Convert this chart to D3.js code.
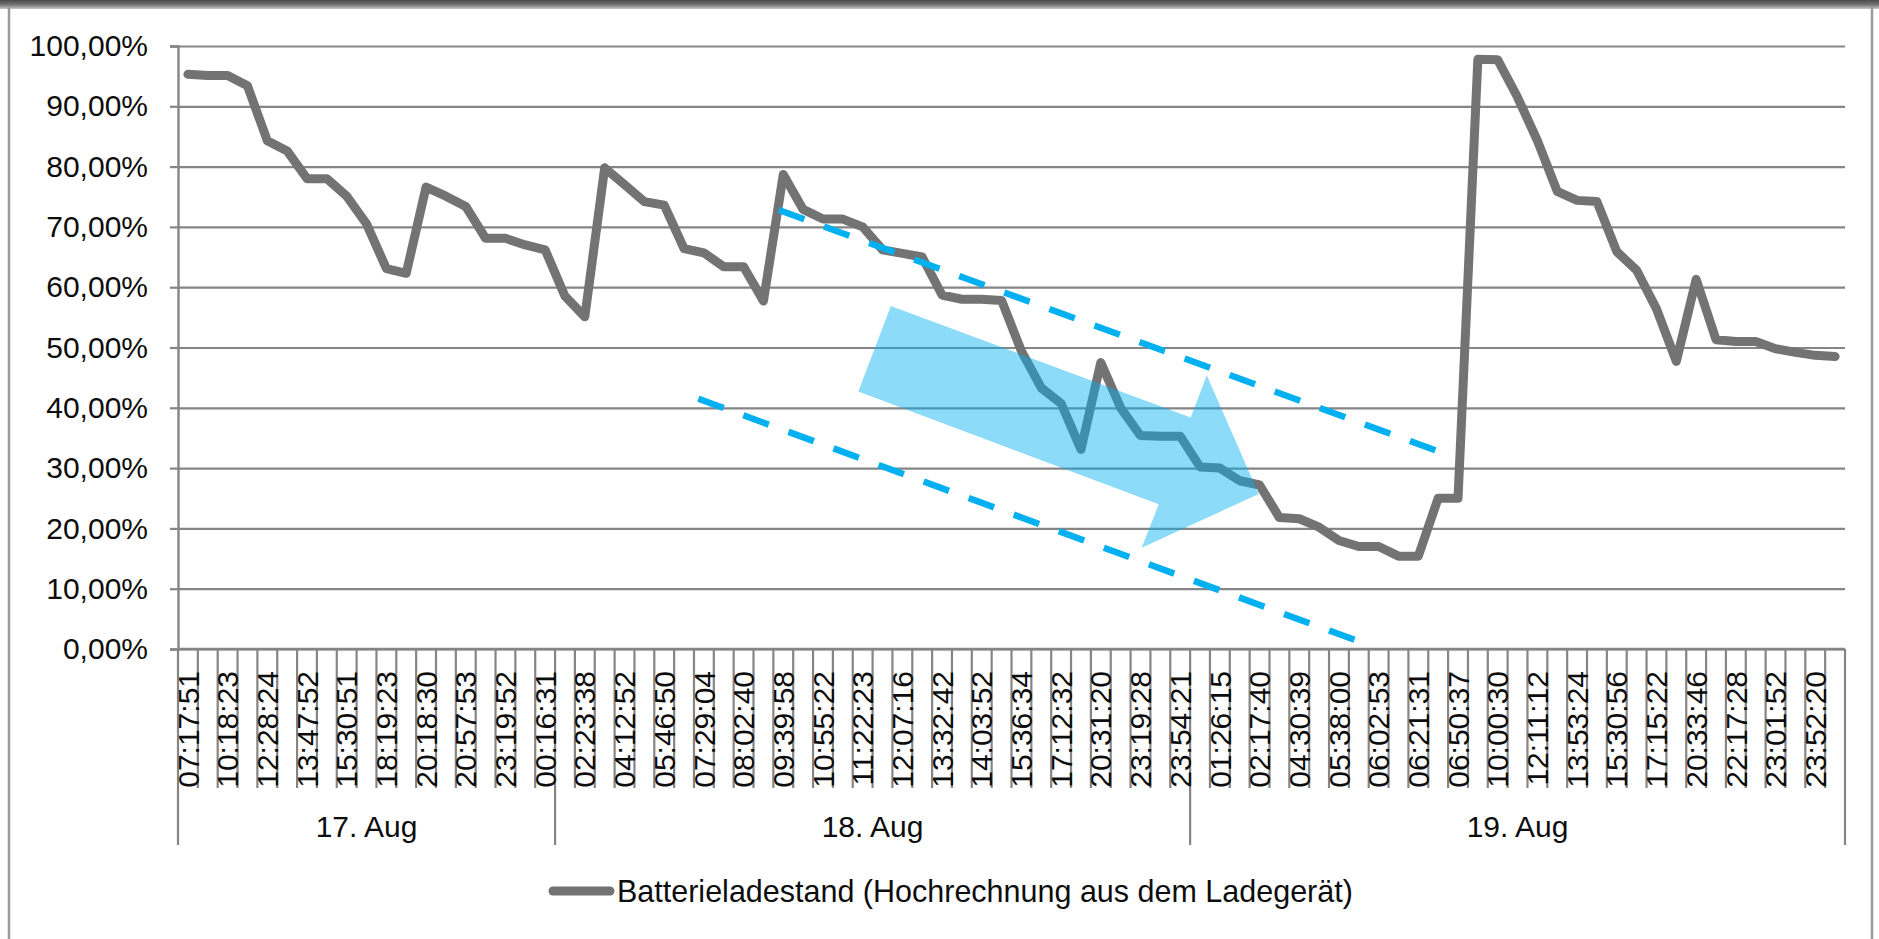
<!DOCTYPE html>
<html>
<head>
<meta charset="utf-8">
<script src="https://cdn.jsdelivr.net/npm/d3@7"></script>
<style>
  html, body { margin: 0; padding: 0; background: #fff; }
  svg { display: block; font-family: "Liberation Sans", Arial, sans-serif; }
</style>
</head>
<body>
<svg id="chart" width="1879" height="939"></svg>
<script>
// Battery charge level readings (fraction of full), one per logged timestamp
const values = [
  0.953, 0.951, 0.951, 0.934, 0.843, 0.826, 0.780, 0.780, 0.751, 0.705,
  0.631, 0.623, 0.766, 0.751, 0.734, 0.681, 0.681, 0.670, 0.662, 0.585,
  0.551, 0.798, 0.770, 0.742, 0.736, 0.664, 0.657, 0.634, 0.634, 0.577,
  0.787, 0.729, 0.713, 0.713, 0.700, 0.662, 0.656, 0.650, 0.587, 0.580,
  0.580, 0.578, 0.494, 0.433, 0.407, 0.331, 0.475, 0.400, 0.354, 0.353,
  0.353, 0.302, 0.300, 0.279, 0.272, 0.218, 0.216, 0.202, 0.180, 0.170,
  0.170, 0.154, 0.154, 0.250, 0.250, 0.978, 0.977, 0.915, 0.843, 0.759,
  0.744, 0.742, 0.659, 0.628, 0.564, 0.477, 0.613, 0.513, 0.510, 0.510,
  0.498, 0.492, 0.487, 0.485
];

// Time labels, printed on every second reading
const tickLabels = [
  "07:17:51", "10:18:23", "12:28:24", "13:47:52", "15:30:51", "18:19:23",
  "20:18:30", "20:57:53", "23:19:52", "00:16:31", "02:23:38", "04:12:52",
  "05:46:50", "07:29:04", "08:02:40", "09:39:58", "10:55:22", "11:22:23",
  "12:07:16", "13:32:42", "14:03:52", "15:36:34", "17:12:32", "20:31:20",
  "23:19:28", "23:54:21", "01:26:15", "02:17:40", "04:30:39", "05:38:00",
  "06:02:53", "06:21:31", "06:50:37", "10:00:30", "12:11:12", "13:53:24",
  "15:30:56", "17:15:22", "20:33:46", "22:17:28", "23:01:52", "23:52:20"
];
const labelStep = 2;

// Day groups of the category axis
const dayLabels = ["17. Aug", "18. Aug", "19. Aug"];
const dayCounts = [19, 32, 33];

const yTicks = [0, 0.1, 0.2, 0.3, 0.4, 0.5, 0.6, 0.7, 0.8, 0.9, 1.0];

const seriesName = "Batterieladestand (Hochrechnung aus dem Ladegerät)";

// Trend channel (category position, level) and the direction arrow
const channelUpper = [[29.78, 0.728], [62.9, 0.329]];
const channelLower = [[25.72, 0.415], [58.97, 0.013]];
const arrowShape = [
  [35.42, 0.569], [50.53, 0.384], [51.34, 0.454], [53.96, 0.257],
  [48.06, 0.168], [48.92, 0.240], [33.78, 0.427]
];

// ---------------------------------------------------------------
const svg = d3.select("#chart");
const W = 1879, H = 939;
const plot = { left: 178, right: 1845, top: 46, bottom: 649 };
const FONT = 30;
const gridColor = "#858585";
const lineColor = "#737373";
const accent = "#00b0f0";

const deLocale = d3.formatLocale({
  decimal: ",", thousands: ".", grouping: [3], currency: ["", " €"]
});
const pct = deLocale.format(".2%");

const x = d3.scaleBand()
  .domain(d3.range(values.length))
  .range([plot.left, plot.right])
  .padding(0);
const bw = x.bandwidth();
const xc = i => x(i) + bw / 2;
// continuous position along the category axis (for annotations)
const xPos = d3.scaleLinear().domain([0, values.length - 1])
  .range([xc(0), xc(values.length - 1)]);
const y = d3.scaleLinear().domain([0, 1]).range([plot.bottom, plot.top]);

// ---- chart frame ----
const defs = svg.append("defs");
const topGrad = defs.append("linearGradient")
  .attr("id", "topband").attr("x1", 0).attr("y1", 0).attr("x2", 0).attr("y2", 1);
topGrad.append("stop").attr("offset", "0%").attr("stop-color", "#4a4a4a");
topGrad.append("stop").attr("offset", "55%").attr("stop-color", "#777777");
topGrad.append("stop").attr("offset", "100%").attr("stop-color", "#c8c8c8");

svg.append("rect").attr("x", 0).attr("y", 0).attr("width", W).attr("height", H)
  .attr("fill", "#fff");
svg.append("rect").attr("x", 0).attr("y", 0).attr("width", W).attr("height", 9)
  .attr("fill", "url(#topband)");
svg.append("line").attr("x1", 9).attr("x2", 9).attr("y1", 7).attr("y2", H)
  .attr("stroke", "#9a9a9a").attr("stroke-width", 2.5);
svg.append("line").attr("x1", 1872).attr("x2", 1872).attr("y1", 7).attr("y2", H)
  .attr("stroke", "#9a9a9a").attr("stroke-width", 2.5);

// ---- gridlines ----
svg.append("g")
  .attr("transform", `translate(${plot.left},0)`)
  .call(d3.axisLeft(y).tickValues(yTicks).tickSize(-(plot.right - plot.left)).tickFormat(""))
  .call(g => g.select(".domain").remove())
  .call(g => g.selectAll("line").attr("stroke", gridColor).attr("stroke-width", 2.2));

// ---- y axis ----
svg.append("g")
  .attr("transform", `translate(${plot.left},0)`)
  .call(d3.axisLeft(y).tickValues(yTicks).tickSize(8).tickPadding(22).tickFormat(pct))
  .call(g => g.select(".domain").attr("stroke", gridColor).attr("stroke-width", 2.4))
  .call(g => g.selectAll("line").attr("stroke", gridColor).attr("stroke-width", 2.2))
  .call(g => g.selectAll("text")
    .attr("font-size", FONT).attr("fill", "#0d0d0d")
    .attr("font-family", "'Liberation Sans', Arial, sans-serif"));

// ---- category axis ----
const xAxis = svg.append("g").attr("class", "x-axis");
const tickBottom = 788, groupBottom = 845;

// boundaries between categories
const boundaries = d3.range(values.length + 1);
const groupStarts = [0];
dayCounts.forEach((c, k) => groupStarts.push(groupStarts[k] + c));
const edgeX = i => (i < values.length ? x(i) : x(values.length - 1) + bw);

xAxis.selectAll("line.tick")
  .data(boundaries)
  .join("line")
  .attr("class", "tick")
  .attr("x1", edgeX).attr("x2", edgeX)
  .attr("y1", plot.bottom)
  .attr("y2", i => groupStarts.includes(i) ? groupBottom : tickBottom)
  .attr("stroke", gridColor).attr("stroke-width", 2.2);

xAxis.append("line")
  .attr("x1", plot.left).attr("x2", plot.right)
  .attr("y1", y(0)).attr("y2", y(0))
  .attr("stroke", gridColor).attr("stroke-width", 2.4);

xAxis.selectAll("text.time")
  .data(tickLabels)
  .join("text")
  .attr("class", "time")
  .attr("transform", (d, k) => `translate(${xc(k * labelStep)},${plot.bottom + 22}) rotate(-90)`)
  .attr("text-anchor", "end")
  .attr("dy", "0.355em")
  .attr("font-size", FONT)
  .attr("fill", "#0d0d0d")
  .text(d => d);

xAxis.selectAll("text.day")
  .data(dayLabels)
  .join("text")
  .attr("class", "day")
  .attr("x", (d, k) => (edgeX(groupStarts[k]) + edgeX(groupStarts[k + 1])) / 2)
  .attr("y", 837)
  .attr("text-anchor", "middle")
  .attr("font-size", FONT)
  .attr("fill", "#0d0d0d")
  .text(d => d);

// ---- data line ----
const line = d3.line()
  .x((d, i) => xc(i))
  .y(d => y(d));

svg.append("path")
  .datum(values)
  .attr("d", line)
  .attr("fill", "none")
  .attr("stroke", lineColor)
  .attr("stroke-width", 9)
  .attr("stroke-linejoin", "round")
  .attr("stroke-linecap", "round");

// ---- trend annotations ----
const annot = svg.append("g");
const toPt = d => [xPos(d[0]), y(d[1])];
[channelUpper, channelLower].forEach(seg => {
  annot.append("path")
    .attr("d", d3.line()(seg.map(toPt)))
    .attr("fill", "none")
    .attr("stroke", accent)
    .attr("stroke-width", 6.5)
    .attr("stroke-dasharray", "27 21");
});
annot.append("path")
  .attr("d", d3.line().curve(d3.curveLinearClosed)(arrowShape.map(toPt)))
  .attr("fill", accent)
  .attr("fill-opacity", 0.45);

// ---- legend ----
const legend = svg.append("g");
legend.append("line")
  .attr("x1", 553).attr("x2", 610)
  .attr("y1", 891).attr("y2", 891)
  .attr("stroke", lineColor).attr("stroke-width", 9)
  .attr("stroke-linecap", "round");
legend.append("text")
  .attr("x", 617).attr("y", 902)
  .attr("font-size", 30.5)
  .attr("fill", "#0d0d0d")
  .text(seriesName);
</script>
</body>
</html>
